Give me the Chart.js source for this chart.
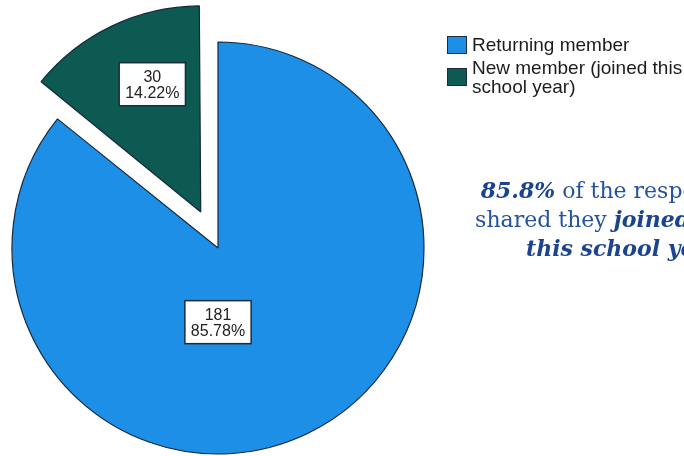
<!DOCTYPE html>
<html>
<head>
<meta charset="utf-8">
<script src="https://cdn.jsdelivr.net/npm/chart.js@4.4.1/dist/chart.umd.min.js"></script>
<style>
  body { margin: 0; width: 684px; height: 456px; overflow: hidden; background: #fff; position: relative; font-family: "Liberation Sans", Arial, sans-serif; }
  #pie { position: absolute; left: 0; top: 0; }
  #legend { position: absolute; left: 447px; top: 35px; font-size: 19px; color: #1c1c1c; }
  .item { display: flex; align-items: center; line-height: 19px; margin-bottom: 4px; }
  .swatch { width: 20px; height: 18px; border: 1px solid #1b2b3b; box-sizing: border-box; margin-right: 5px; flex: none; }
  #note { position: absolute; left: 426px; top: 176px; width: 400px; text-align: center; white-space: nowrap;
          font-family: "DejaVu Serif", serif; font-size: 22px; line-height: 29px; color: #2352a0; }
  #note b { color: #1b448e; }
</style>
</head>
<body>
<canvas id="pie" width="684" height="456"></canvas>
<div id="legend"></div>
<div id="note">
  <b><i>85.8%</i></b> of the respondents<br>
  shared they <b><i>joined before</i></b><br>
  <b><i>this school year.</i></b>
</div>
<script>
const memberTypes = ['Returning member', ['New member (joined this', 'school year)']];
const counts = [181, 30];
const sliceColors = ['#1e8fe6', '#0c5a52'];
// Chart.js moves an arc by offset / 4, so 160 pulls the slice out ~40px
const sliceOffsets = [0, 160];

const total = counts.reduce((a, b) => a + b, 0);
const percents = counts.map(c => (c / total * 100).toFixed(2) + '%');

// an offset arc also gets a bigger radius (offset * (1 - sin(circumference))),
// pull it back so the exploded slice keeps the same size as the rest
const keepRadius = {
  id: 'keepRadius',
  beforeDatasetsDraw(chart) {
    const meta = chart.getDatasetMeta(0);
    const base = meta.controller.outerRadius;
    meta.data.forEach(arc => {
      const off = (arc.options.offset || 0) / 4;
      const fix = 1 - Math.sin(Math.min(Math.PI, arc.circumference || 0));
      arc.outerRadius = base - off * fix;
    });
  }
};

// white boxed "count / percent" labels placed relative to each slice's center
const boxLabels = {
  id: 'boxLabels',
  afterDatasetsDraw(chart, args, opts) {
    const ctx = chart.ctx;
    const meta = chart.getDatasetMeta(0);
    const r = meta.controller.outerRadius;
    meta.data.forEach((arc, i) => {
      const mid = (arc.startAngle + arc.endAngle) / 2;
      const off = (arc.options.offset || 0) / 4;
      const cx = arc.x + Math.cos(mid) * off;
      const cy = arc.y + Math.sin(mid) * off;
      const pos = opts.positions[i];
      const x = cx + pos[0] * r;
      const y = cy + pos[1] * r;
      const lines = [String(counts[i]), percents[i]];

      ctx.save();
      ctx.font = '16px "Liberation Sans", Arial, sans-serif';
      const w = Math.max(...lines.map(l => ctx.measureText(l).width)) + 12;
      const lh = 16;
      const h = lines.length * lh + 11;
      ctx.fillStyle = '#ffffff';
      ctx.strokeStyle = '#1b2b3b';
      ctx.lineWidth = 1.5;
      ctx.fillRect(x - w / 2, y - h / 2, w, h);
      ctx.strokeRect(x - w / 2, y - h / 2, w, h);
      ctx.fillStyle = '#222';
      ctx.textAlign = 'center';
      ctx.textBaseline = 'middle';
      lines.forEach((l, k) => {
        ctx.fillText(l, x, y - (lines.length - 1) * lh / 2 + k * lh + 1);
      });
      ctx.restore();
    });
  }
};

const chart = new Chart(document.getElementById('pie'), {
  type: 'pie',
  data: {
    labels: memberTypes,
    datasets: [{
      data: counts,
      backgroundColor: sliceColors,
      borderColor: '#14283c',
      borderWidth: 1.2,
      offset: sliceOffsets
    }]
  },
  options: {
    responsive: false,
    animation: false,
    radius: 206,
    layout: { padding: { left: 0, right: 248, top: 40, bottom: 0 } },
    plugins: {
      legend: { display: false },
      tooltip: { enabled: false },
      boxLabels: { positions: [[0, 0.36], [-0.235, -0.62]] }
    }
  },
  plugins: [keepRadius, boxLabels]
});

// legend built from the same labels/colors
const legend = document.getElementById('legend');
memberTypes.forEach((lab, i) => {
  const item = document.createElement('div');
  item.className = 'item';
  const sw = document.createElement('span');
  sw.className = 'swatch';
  sw.style.background = sliceColors[i];
  const txt = document.createElement('span');
  txt.innerHTML = [].concat(lab).join('<br>');
  item.appendChild(sw);
  item.appendChild(txt);
  legend.appendChild(item);
});
</script>
</body>
</html>
